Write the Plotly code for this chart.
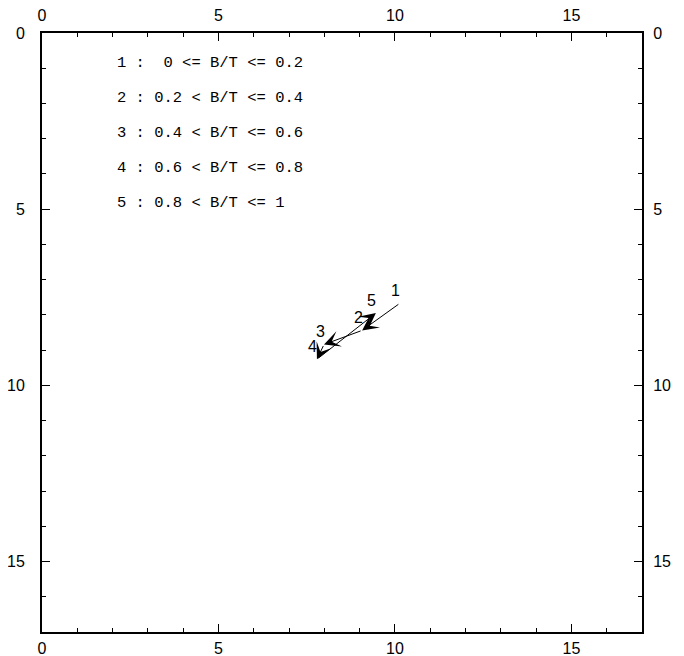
import plotly.graph_objects as go

# Data
point_labels = ["1", "2", "3", "4", "5"]
x_pts = [10.14, 9.07, 7.99, 7.79, 9.46]
y_pts = [7.67, 8.44, 8.84, 9.26, 7.95]

legend_lines = [
    "1 :&nbsp;&nbsp;0 &lt;= B/T &lt;= 0.2",
    "2 : 0.2 &lt; B/T &lt;= 0.4",
    "3 : 0.4 &lt; B/T &lt;= 0.6",
    "4 : 0.6 &lt; B/T &lt;= 0.8",
    "5 : 0.8 &lt; B/T &lt;= 1",
]
tick_vals = [0, 5, 10, 15]

FONT = "Liberation Sans"
MONO = "Liberation Mono"

fig = go.Figure()
# invisible traces to create both axis pairs
fig.add_trace(go.Scatter(x=x_pts, y=y_pts, mode="markers", marker=dict(opacity=0),
                         hoverinfo="skip", showlegend=False, xaxis="x", yaxis="y"))
fig.add_trace(go.Scatter(x=x_pts, y=y_pts, mode="markers", marker=dict(opacity=0),
                         hoverinfo="skip", showlegend=False, xaxis="x2", yaxis="y2"))

annotations = []
# arrows between consecutive points
for i in range(len(x_pts) - 1):
    annotations.append(dict(
        x=x_pts[i + 1], y=y_pts[i + 1], ax=x_pts[i], ay=y_pts[i],
        xref="x", yref="y", axref="x", ayref="y",
        text="", showarrow=True, arrowhead=3, arrowsize=2.7, arrowwidth=1,
        arrowcolor="black", standoff=0, startstandoff=0,
    ))
# point labels
for lab, xv, yv in zip(point_labels, x_pts, y_pts):
    annotations.append(dict(
        x=xv, y=yv, xref="x", yref="y", text=lab, showarrow=False,
        xshift=-4, yshift=13, font=dict(family=FONT, size=16, color="black"),
    ))
# legend text
for i, line in enumerate(legend_lines):
    annotations.append(dict(
        x=2.07, y=0.85 + i * 0.995, xref="x", yref="y", text=line, showarrow=False,
        xanchor="left", yanchor="middle", font=dict(family=MONO, size=15.5, color="black"),
    ))

axis_common = dict(
    range=[0, 17], tickvals=tick_vals, ticks="inside", ticklen=8, tickwidth=1,
    tickcolor="black", showline=True, linecolor="black", linewidth=2,
    showgrid=False, zeroline=False, mirror=False, automargin=False,
    tickfont=dict(family=FONT, size=16, color="black"),
    minor=dict(dtick=1, tick0=0, ticks="inside", ticklen=4, tickwidth=1,
               tickcolor="black", showgrid=False),
)

# page body has an 8px default margin; compensate so plot area sits at x 42-642, y 33-632
fig.update_layout(
    width=676, height=648,
    margin=dict(l=34, r=42, t=25, b=24),
    paper_bgcolor="white", plot_bgcolor="white",
    showlegend=False,
    xaxis=dict(axis_common, side="bottom", anchor="y", ticklabelstandoff=1),
    yaxis=dict(axis_common, range=[17, 0], side="left", anchor="x", ticklabelstandoff=12),
    xaxis2=dict(axis_common, side="top", overlaying="x", anchor="y2", ticklabelstandoff=4),
    yaxis2=dict(axis_common, range=[17, 0], side="right", overlaying="y", anchor="x2",
                ticklabelstandoff=6),
    annotations=annotations,
)

fig.write_html("out.html")
